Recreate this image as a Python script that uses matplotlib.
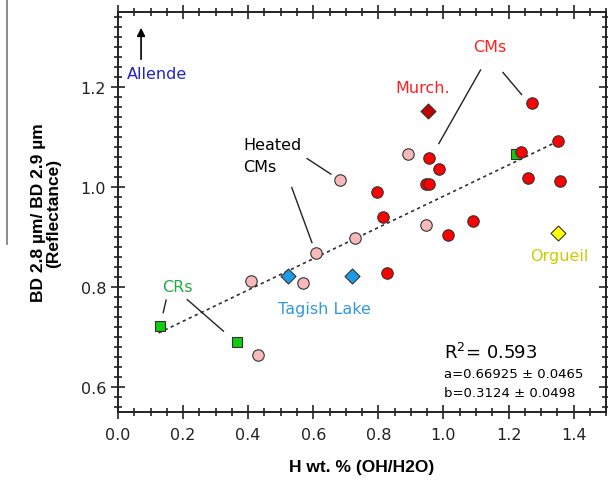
import numpy as np
import matplotlib
matplotlib.use("Agg")
from matplotlib import pyplot as plt
from matplotlib.ticker import MultipleLocator

# CM chondrites (red circles)
cm_x = [1.273, 1.352, 1.237, 1.261, 1.357, 0.957, 0.986, 0.945, 0.955,
        0.796, 0.813, 1.092, 1.015, 0.826]
cm_y = [1.169, 1.092, 1.070, 1.019, 1.012, 1.059, 1.037, 1.007, 1.007,
        0.990, 0.941, 0.933, 0.904, 0.829]
# heated CMs (pink circles)
heated_x = [0.891, 0.681, 0.946, 0.727, 0.609, 0.408, 0.567, 0.429]
heated_y = [1.067, 1.014, 0.925, 0.899, 0.869, 0.813, 0.809, 0.664]
# CRs (green squares)
cr_x = [1.222, 0.128, 0.366]
cr_y = [1.067, 0.723, 0.691]
# Tagish Lake (blue diamonds)
tl_x = [0.522, 0.718]
tl_y = [0.823, 0.823]
# Murchison / Orgueil
murch_x, murch_y = [0.953], [1.153]
org_x, org_y = [1.353], [0.909]

# linear fit y = a + b*x
fit_a, fit_b = 0.66925, 0.3124
fit_range = [0.125, 1.35]

fig = plt.figure(figsize=(6.08, 4.81), dpi=100)
ax = fig.add_axes([0.194, 0.141, 0.803, 0.832])

fx = np.array(fit_range)
ax.plot(fx, fit_a + fit_b * fx, color='#333333', ls=(0, (2, 2)), lw=1.2, zorder=2)

edge = dict(edgecolor='#333333', linewidth=0.8, zorder=3)
ax.scatter(cr_x, cr_y, marker='s', s=60, color='#11cc11', **edge)
ax.scatter(heated_x, heated_y, marker='o', s=68, color='#f7b9b9', **edge)
ax.scatter(cm_x, cm_y, marker='o', s=68, color='#ff0000', **edge)
ax.scatter(tl_x, tl_y, marker='D', s=58, color='#1e9be8', **edge)
ax.scatter(murch_x, murch_y, marker='D', s=58, color='#c00000', **edge)
ax.scatter(org_x, org_y, marker='D', s=58, color='#ffff00', **edge)

# annotation leader lines
lines = [((1.114, 0.986), (1.234, 1.087)),
         ((1.183, 1.24), (1.229, 1.185)),
         ((0.581, 0.654), (1.057, 1.026)),
         ((0.534, 0.596), (0.999, 0.889)),
         ((0.148, 0.139), (0.774, 0.749)),
         ((0.213, 0.324), (0.775, 0.712))]
for lx, ly in lines:
    ax.plot(lx, ly, color='#222222', lw=1, zorder=2)

ax.annotate('', xy=(0.071, 1.324), xytext=(0.071, 1.25),
            arrowprops=dict(arrowstyle='-|>', color='black', lw=1.2, mutation_scale=12))

fs = 11.5
ax.text(0.119, 1.228, 'Allende', color='#2222cc', fontsize=fs, ha='center', va='center')
ax.text(1.142, 1.281, 'CMs', color='#ff2020', fontsize=fs, ha='center', va='center')
ax.text(0.937, 1.199, 'Murch.', color='#ff2020', fontsize=fs, ha='center', va='center')
ax.text(0.384, 1.063, 'Heated\nCMs', color='black', fontsize=fs, ha='left', va='center',
        linespacing=1.65)
ax.text(0.184, 0.801, 'CRs', color='#22aa44', fontsize=fs, ha='center', va='center')
ax.text(0.634, 0.757, 'Tagish Lake', color='#3399dd', fontsize=fs, ha='center', va='center')
ax.text(1.356, 0.864, 'Orgueil', color='#cccc00', fontsize=fs, ha='center', va='center')
ax.text(1.001, 0.671, r'R$^2$= 0.593', fontsize=13, ha='left', va='center')
ax.text(1.001, 0.627, 'a=0.66925 ± 0.0465', fontsize=9.5, ha='left', va='center')
ax.text(1.001, 0.590, 'b=0.3124 ± 0.0498', fontsize=9.5, ha='left', va='center')

ax.set_xlim(0, 1.5)
ax.set_ylim(0.55, 1.35)
ax.xaxis.set_major_locator(MultipleLocator(0.2))
ax.xaxis.set_minor_locator(MultipleLocator(0.05))
ax.yaxis.set_major_locator(MultipleLocator(0.2))
ax.yaxis.set_minor_locator(MultipleLocator(0.02))
ax.xaxis.set_major_formatter(plt.FuncFormatter(lambda v, p: '%.1f' % v))
ax.yaxis.set_major_formatter(plt.FuncFormatter(lambda v, p: '%.1f' % v))
ax.tick_params(which='both', direction='inout', top=True, right=True,
               labelsize=11.5, width=1.2, colors='#222222')
ax.tick_params(which='major', length=10)
ax.tick_params(which='minor', length=6)
ax.tick_params(axis='x', which='major', pad=6)
for sp in ax.spines.values():
    sp.set_linewidth(1.4)
    sp.set_color('#222222')

ax.set_xlabel('H wt. % (OH/H2O)', fontsize=12.5, fontweight='bold',
              family='Liberation Sans', labelpad=12)
ax.set_ylabel('BD 2.8 µm/ BD 2.9 µm\n(Reflectance)', fontsize=12.5, fontweight='bold',
              family='Liberation Sans', labelpad=14, linespacing=1.0)

# stray vertical rule at the left edge of the original figure
fig.add_artist(plt.Line2D([0.012, 0.012], [1.0, 0.49], color='#777777', lw=1.2))

fig.savefig('out.png', dpi=100)
